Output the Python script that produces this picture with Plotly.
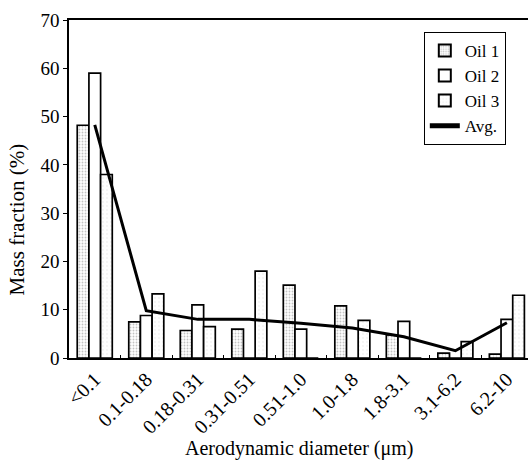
import plotly.graph_objects as go

categories = ["<0.1", "0.1-0.18", "0.18-0.31", "0.31-0.51", "0.51-1.0",
              "1.0-1.8", "1.8-3.1", "3.1-6.2", "6.2-10"]
oil1 = [48.2, 7.5, 5.7, 6.0, 15.1, 10.8, 4.8, 1.0, 0.8]
oil2 = [59.0, 8.8, 11.0, 0.0, 6.0, 0.0, 7.6, 0.0, 8.0]
oil3 = [38.0, 13.3, 6.5, 18.0, 0.0, 7.8, 0.0, 3.4, 13.0]
avg = [48.3, 9.8, 8.0, 8.0, 7.2, 6.2, 4.4, 1.5, 7.3]

font_family = "Liberation Serif, Times New Roman, serif"

fig = go.Figure()
fig.add_trace(go.Bar(
    x=categories, y=oil1, name="Oil 1",
    marker=dict(color="white", line=dict(color="black", width=1.7),
                pattern=dict(shape=".", fgcolor="#888888", bgcolor="white",
                             size=3, solidity=0.3)),
))
fig.add_trace(go.Bar(
    x=categories, y=oil2, name="Oil 2",
    marker=dict(color="white", line=dict(color="black", width=1.7)),
))
fig.add_trace(go.Bar(
    x=categories, y=oil3, name="Oil 3",
    marker=dict(color="white", line=dict(color="black", width=1.7),
                pattern=dict(shape=".", fgcolor="#cccccc", bgcolor="white",
                             size=4, solidity=0.1)),
))
fig.add_trace(go.Scatter(
    x=categories, y=avg, name="Avg.", mode="lines",
    line=dict(color="black", width=3),
))

fig.update_layout(
    width=528, height=464,
    margin=dict(l=69, r=0, t=20, b=106),
    paper_bgcolor="white", plot_bgcolor="white",
    barmode="group", bargap=0.32, bargroupgap=0,
    font=dict(family=font_family, size=18, color="black"),
    showlegend=True,
    legend=dict(x=0.773, y=0.965, xanchor="left", yanchor="top",
                bordercolor="black", borderwidth=1, bgcolor="white",
                font=dict(family=font_family, size=17),
                tracegroupgap=0, itemsizing="constant"),
    annotations=[
        dict(text="Aerodynamic diameter (μm)", xref="paper", yref="paper",
             x=0.5, y=0, xanchor="center", yanchor="middle", yshift=-90,
             showarrow=False, font=dict(family=font_family, size=20)),
        dict(text="Mass fraction (%)", xref="paper", yref="paper",
             x=0, y=0.41, xanchor="center", yanchor="middle", xshift=-52,
             textangle=-90, showarrow=False,
             font=dict(family=font_family, size=21)),
    ],
)
fig.update_xaxes(
    type="category", range=[-0.5, 8.41],
    showline=True, linecolor="black", linewidth=1.5, mirror=True,
    ticks="inside", ticklen=3, tickson="boundaries", tickcolor="black",
    tickangle=-45, tickfont=dict(family=font_family, size=20),
    showgrid=False,
)
fig.update_yaxes(
    range=[0, 70], dtick=10,
    showline=True, linecolor="black", linewidth=1.5,
    ticks="outside", ticklen=4, tickcolor="black",
    tickfont=dict(family=font_family, size=19),
    showgrid=False, zeroline=False,
)

fig.write_html("out.html")
